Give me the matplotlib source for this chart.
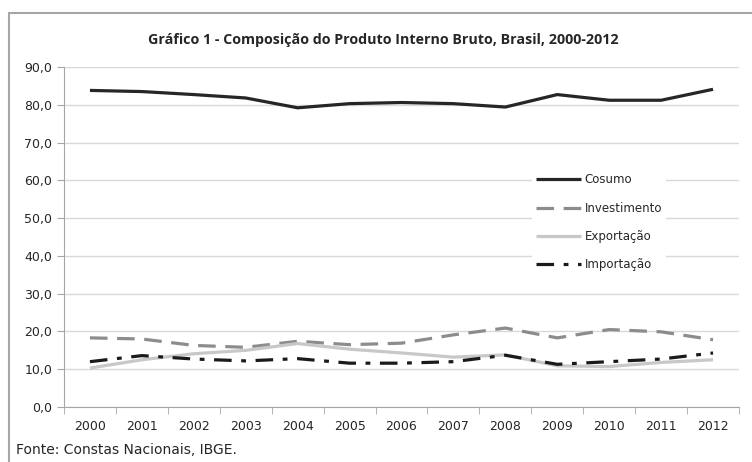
import matplotlib
matplotlib.use('Agg')
from matplotlib import pyplot as plt
from matplotlib.patches import Rectangle
from matplotlib.ticker import FuncFormatter, MultipleLocator

# =================================
# Data
# =================================
anos = [2000, 2001, 2002, 2003, 2004, 2005, 2006, 2007, 2008, 2009, 2010, 2011, 2012]
consumo = [83.8, 83.5, 82.7, 81.8, 79.2, 80.3, 80.6, 80.3, 79.4, 82.7, 81.2, 81.2, 84.1]
investimento = [18.3, 18.0, 16.3, 15.8, 17.4, 16.5, 16.9, 19.1, 20.9, 18.3, 20.5, 19.9, 17.8]
exportacao = [10.3, 12.5, 14.1, 15.0, 16.8, 15.3, 14.3, 13.2, 13.8, 10.9, 10.7, 11.8, 12.5]
importacao = [12.0, 13.6, 12.7, 12.2, 12.8, 11.6, 11.6, 12.0, 13.7, 11.3, 12.0, 12.7, 14.3]

titulo = 'Gráfico 1 - Composição do Produto Interno Bruto, Brasil, 2000-2012'
fonte = 'Fonte: Constas Nacionais, IBGE.'

plt.rcParams['font.family'] = ['DejaVu Sans']

fig = plt.figure(figsize=(7.52, 4.62), dpi=100)
ax = fig.add_axes([64 / 752, 55 / 462, 675 / 752, 340 / 462])

# outer frame (cropped on right and bottom)
fig.patches.append(Rectangle((9 / 752, -0.2), 1.0, 1.2 - 13 / 462,
                             transform=fig.transFigure, fill=False,
                             edgecolor='#a6a6a6', linewidth=1.5))

ax.plot(anos, consumo, color='#262626', lw=2.3, label='Cosumo',
        solid_capstyle='butt')
ax.plot(anos, investimento, color='#8c8c8c', lw=2.3, label='Investimento',
        dashes=(5.5, 3), dash_capstyle='butt')
ax.plot(anos, exportacao, color='#c8c8c8', lw=2.3, label='Exportação',
        solid_capstyle='butt')
ax.plot(anos, importacao, color='#1a1a1a', lw=2.3, label='Importação',
        dashes=(5.5, 3, 1.5, 3), dash_capstyle='butt')

# axes style
ax.set_xlim(anos[0] - 0.5, anos[-1] + 0.5)
ax.set_ylim(0, 90)
ax.yaxis.set_major_locator(MultipleLocator(10))
ax.yaxis.set_major_formatter(FuncFormatter(lambda v, p: f'{v:.1f}'.replace('.', ',')))
ax.set_xticks(anos)
ax.set_xticks([a - 0.5 for a in anos] + [anos[-1] + 0.5], minor=True)
ax.tick_params(axis='x', which='major', length=0, pad=9, labelsize=9, colors='#262626')
ax.tick_params(axis='x', which='minor', length=5, color='#a6a6a6', direction='out')
ax.tick_params(axis='y', length=5, labelsize=9, colors='#262626')
ax.tick_params(axis='y', color='#a6a6a6')
ax.grid(axis='y', color='#d9d9d9', lw=1)
ax.set_axisbelow(True)
for s in ['top', 'right']:
    ax.spines[s].set_visible(False)
for s in ['left', 'bottom']:
    ax.spines[s].set_color('#a6a6a6')

leg = ax.legend(loc='upper left', bbox_to_anchor=(0.685, 0.715), frameon=True,
                edgecolor='none', facecolor='white', framealpha=1,
                fontsize=8.5, handlelength=3.8, labelspacing=1.3,
                handletextpad=0.35, borderpad=0.3)
for t in leg.get_texts():
    t.set_color('#262626')

fig.text(383 / 752, 1 - 40 / 462, titulo, ha='center', va='center',
         fontsize=10.3, fontweight='bold', color='#262626',
         family=['Open Sans', 'DejaVu Sans'])
fig.text(16 / 752, 1 - 450 / 462, fonte, ha='left', va='center',
         fontsize=10, color='#262626')

fig.savefig('out.png', dpi=100)
